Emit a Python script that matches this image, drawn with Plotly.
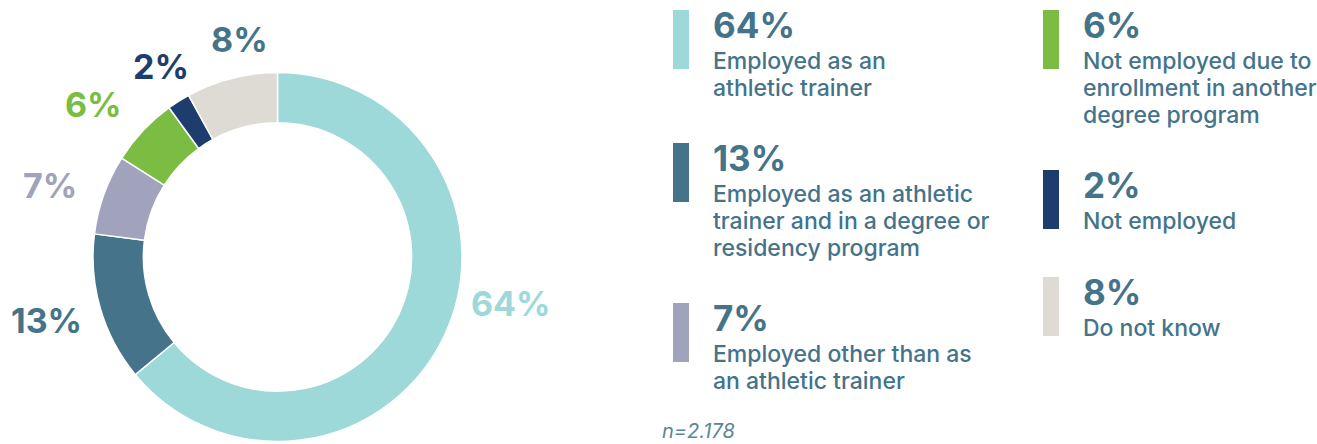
import plotly.graph_objects as go

# ---- data ----
categories = [
    "Employed as an athletic trainer",
    "Employed as an athletic trainer and in a degree or residency program",
    "Employed other than as an athletic trainer",
    "Not employed due to enrollment in another degree program",
    "Not employed",
    "Do not know",
]
values = [64, 13, 7, 6, 2, 8]
pct_labels = ["64%", "13%", "7%", "6%", "2%", "8%"]
legend_lines = [
    ["Employed as an", "athletic trainer"],
    ["Employed as an athletic", "trainer and in a degree or", "residency program"],
    ["Employed other than as", "an athletic trainer"],
    ["Not employed due to", "enrollment in another", "degree program"],
    ["Not employed"],
    ["Do not know"],
]
sample_note = "n=2.178"

# ---- styles ----
W, H = 1317, 444
slice_colors = ["#9dd9d8", "#44738a", "#a1a2bc", "#7abd42", "#1d3d6e", "#dedad4"]
label_colors = ["#9dd9d8", "#44738a", "#a1a2bc", "#7abd42", "#1d3d6e", "#44738a"]
text_color = "#44738a"
FONT = "Inter"
DESC_SIZE = 23
LINE_GAP = 27

def px(x):
    return x / W

def py(y):
    return 1 - y / H

cx, cy, R = 277.5, 257, 184.5

fig = go.Figure()
fig.add_trace(go.Pie(
    labels=categories,
    values=values,
    sort=False,
    direction="clockwise",
    rotation=0,
    hole=0.727,
    marker=dict(colors=slice_colors, line=dict(color="white", width=1.5)),
    textinfo="none",
    hoverinfo="label+percent",
    showlegend=False,
    domain=dict(x=[px(cx - R), px(cx + R)], y=[py(cy + R), py(cy - R)]),
))

annotations = []
shapes = []

# donut outside labels (pixel centres)
donut_label_pos = [(511, 303.5), (47, 320), (50, 186), (94, 104), (161, 66), (239, 40)]
for i, (lx, ly) in enumerate(donut_label_pos):
    annotations.append(dict(
        x=px(lx), y=py(ly), xref="paper", yref="paper",
        text=f"<b>{pct_labels[i]}</b>", showarrow=False,
        xanchor="center", yanchor="middle", borderpad=0,
        font=dict(family=FONT, size=34, color=label_colors[i]),
    ))

# legend blocks: (bar_x, text_x, bar_top, bar_bottom)
legend_pos = [
    (673, 713, 10, 69),
    (673, 713, 143, 202),
    (673, 713, 303, 362),
    (1043, 1083, 10, 69),
    (1043, 1083, 170, 229),
    (1043, 1083, 277, 336),
]
for i, (bx, tx, top, bot) in enumerate(legend_pos):
    shapes.append(dict(
        type="rect", xref="paper", yref="paper",
        x0=px(bx), x1=px(bx + 16), y0=py(bot), y1=py(top),
        fillcolor=slice_colors[i], line=dict(width=0),
    ))
    annotations.append(dict(
        x=px(tx - 1), y=py(top + 14.5), xref="paper", yref="paper",
        text=f"<b>{pct_labels[i]}</b>", showarrow=False,
        xanchor="left", yanchor="middle", borderpad=0,
        font=dict(family=FONT, size=35, color=text_color),
    ))
    for k, line in enumerate(legend_lines[i]):
        baseline = bot + LINE_GAP * k
        annotations.append(dict(
            x=px(tx - 1), y=py(baseline - 0.36 * DESC_SIZE), xref="paper", yref="paper",
            text=line, showarrow=False,
            xanchor="left", yanchor="middle", align="left", borderpad=0,
            font=dict(family=FONT, size=DESC_SIZE, color=text_color, weight=500),
        ))

annotations.append(dict(
    x=px(661), y=py(431), xref="paper", yref="paper",
    text=f"<i>{sample_note}</i>", showarrow=False,
    xanchor="left", yanchor="middle", borderpad=0,
    font=dict(family=FONT, size=20, color="#5a8599"),
))

fig.update_layout(
    width=W, height=H,
    margin=dict(l=0, r=0, t=0, b=0),
    paper_bgcolor="white", plot_bgcolor="white",
    annotations=annotations, shapes=shapes,
    font=dict(family=FONT),
)

fig.write_html("out.html", config={"displayModeBar": False},
               post_script="document.body.style.margin='0';")
